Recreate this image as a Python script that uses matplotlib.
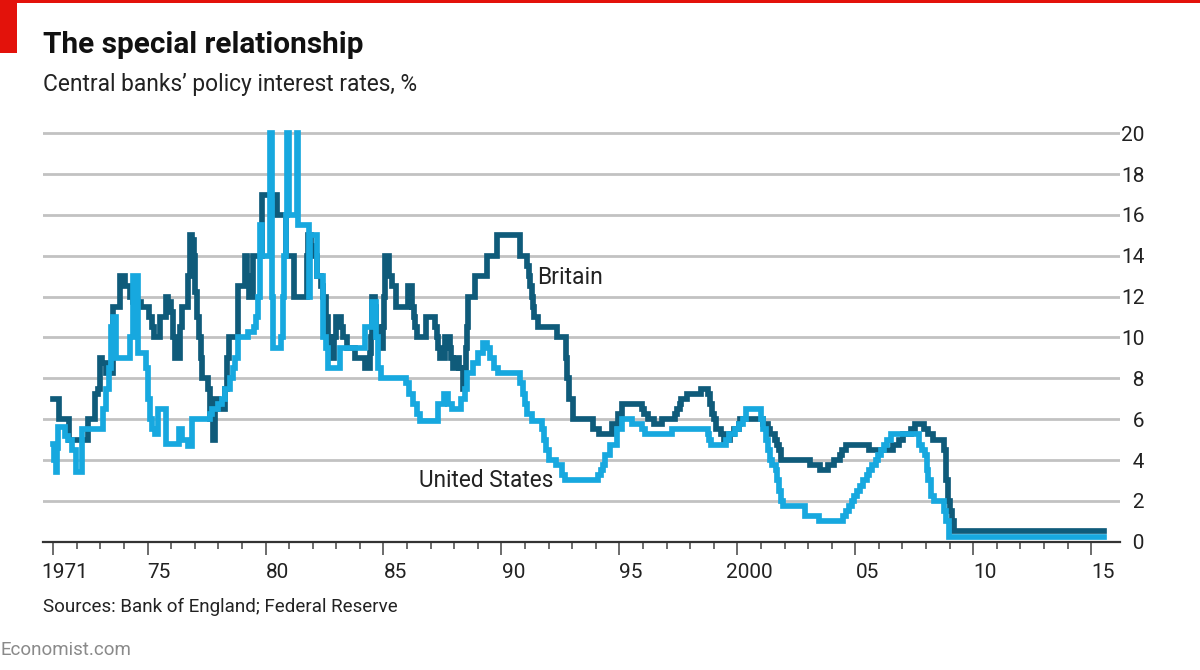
#!/usr/bin/env python3

import matplotlib.pyplot as plt
import matplotlib.transforms as mtransforms
from matplotlib.patches import Rectangle

# Policy-rate change points (decimal year, %)
britain_years = [
    1971.0, 1971.25, 1971.68, 1972.48, 1972.78, 1972.9, 1972.97, 1973.08, 1973.25, 1973.52,
    1973.85, 1974.05, 1974.25, 1974.4, 1974.7, 1975.05, 1975.18, 1975.28, 1975.52, 1975.78,
    1975.88, 1975.98, 1976.08, 1976.18, 1976.38, 1976.45, 1976.7, 1976.78, 1976.9, 1976.97,
    1977.03, 1977.1, 1977.17, 1977.25, 1977.3, 1977.55, 1977.65, 1977.78, 1977.87, 1978.0,
    1978.28, 1978.35, 1978.45, 1978.85, 1979.12, 1979.2, 1979.3, 1979.45, 1979.87, 1980.5,
    1980.88, 1981.2, 1981.75, 1981.82, 1981.92, 1982.05, 1982.2, 1982.35, 1982.45, 1982.55,
    1982.65, 1982.78, 1982.9, 1983.0, 1983.2, 1983.3, 1983.45, 1983.78, 1984.2, 1984.42,
    1984.47, 1984.52, 1984.65, 1984.7, 1984.8, 1984.9, 1985.0, 1985.04, 1985.08, 1985.22,
    1985.35, 1985.52, 1986.02, 1986.2, 1986.28, 1986.35, 1986.4, 1986.8, 1987.2, 1987.25,
    1987.33, 1987.4, 1987.6, 1987.82, 1987.88, 1987.95, 1988.1, 1988.22, 1988.37, 1988.45,
    1988.5, 1988.54, 1988.6, 1988.88, 1989.4, 1989.8, 1990.78, 1991.1, 1991.15, 1991.22,
    1991.3, 1991.35, 1991.4, 1991.55, 1992.35, 1992.72, 1992.8, 1992.88, 1993.05, 1993.9,
    1994.12, 1994.7, 1994.95, 1995.1, 1995.95, 1996.05, 1996.2, 1996.45, 1996.8, 1997.35,
    1997.45, 1997.55, 1997.6, 1997.85, 1998.45, 1998.75, 1998.85, 1998.93, 1999.02, 1999.1,
    1999.3, 1999.45, 1999.7, 1999.85, 2000.05, 2000.12, 2001.1, 2001.3, 2001.38, 2001.6,
    2001.7, 2001.78, 2001.85, 2003.1, 2003.52, 2003.85, 2004.1, 2004.35, 2004.45, 2004.6,
    2005.6, 2006.6, 2006.85, 2007.03, 2007.35, 2007.52, 2007.93, 2008.1, 2008.3, 2008.77,
    2008.84, 2008.92, 2009.02, 2009.1, 2009.17,
]
britain_rates = [
    7.0, 6.0, 5.0, 6.0, 7.25, 7.5, 9.0, 8.75, 8.25, 11.5,
    13.0, 12.5, 12.0, 11.75, 11.5, 11.0, 10.5, 10.0, 11.0, 12.0,
    11.75, 11.25, 10.0, 9.0, 10.5, 11.5, 13.0, 15.0, 14.75, 14.0,
    12.25, 11.0, 10.0, 9.0, 8.0, 7.5, 6.0, 5.0, 7.0, 6.5,
    7.5, 9.0, 10.0, 12.5, 14.0, 13.0, 12.0, 14.0, 17.0, 16.0,
    14.0, 12.0, 14.0, 15.0, 14.5, 14.0, 13.0, 12.5, 12.0, 11.0,
    10.0, 9.0, 10.0, 11.0, 10.5, 10.0, 9.5, 9.0, 8.5, 9.25,
    10.0, 12.0, 11.5, 10.5, 10.0, 9.5, 10.5, 12.0, 14.0, 13.0,
    12.5, 11.5, 12.5, 11.5, 11.0, 10.5, 10.0, 11.0, 10.5, 10.0,
    9.5, 9.0, 10.0, 9.5, 9.0, 8.5, 9.0, 8.5, 7.5, 8.5,
    9.5, 10.5, 12.0, 13.0, 14.0, 15.0, 14.0, 13.5, 13.0, 12.5,
    12.0, 11.5, 11.0, 10.5, 10.0, 9.0, 8.0, 7.0, 6.0, 5.5,
    5.25, 5.75, 6.25, 6.75, 6.5, 6.25, 6.0, 5.75, 6.0, 6.25,
    6.5, 6.75, 7.0, 7.25, 7.5, 7.25, 6.75, 6.25, 6.0, 5.5,
    5.25, 5.0, 5.25, 5.5, 5.75, 6.0, 5.75, 5.5, 5.25, 5.0,
    4.75, 4.5, 4.0, 3.75, 3.5, 3.75, 4.0, 4.25, 4.5, 4.75,
    4.5, 4.75, 5.0, 5.25, 5.5, 5.75, 5.5, 5.25, 5.0, 4.5,
    3.0, 2.0, 1.5, 1.0, 0.5,
]

us_years = [
    1971.0, 1971.05, 1971.1, 1971.15, 1971.2, 1971.5, 1971.62, 1971.8, 1971.95, 1972.2,
    1973.1, 1973.25, 1973.35, 1973.45, 1973.52, 1973.68, 1974.25, 1974.38, 1974.58, 1974.95,
    1975.02, 1975.1, 1975.18, 1975.32, 1975.45, 1975.77, 1976.35, 1976.45, 1976.7, 1976.88,
    1977.65, 1977.75, 1978.0, 1978.15, 1978.3, 1978.5, 1978.6, 1978.7, 1978.85, 1979.25,
    1979.5, 1979.6, 1979.7, 1979.77, 1979.85, 1980.21, 1980.27, 1980.33, 1980.65, 1980.72,
    1980.78, 1980.85, 1980.93, 1980.99, 1981.33, 1981.39, 1981.83, 1981.9, 1982.2, 1982.45,
    1982.58, 1982.65, 1983.15, 1984.2, 1984.5, 1984.68, 1984.78, 1984.9, 1985.95, 1986.1,
    1986.25, 1986.4, 1986.55, 1987.3, 1987.55, 1987.75, 1987.9, 1988.3, 1988.45, 1988.55,
    1988.8, 1989.0, 1989.2, 1989.4, 1989.5, 1989.7, 1989.85, 1990.8, 1990.9, 1991.0,
    1991.1, 1991.3, 1991.7, 1991.8, 1991.9, 1992.0, 1992.3, 1992.55, 1992.7, 1994.1,
    1994.2, 1994.3, 1994.38, 1994.62, 1994.88, 1995.09, 1995.53, 1995.96, 1996.08, 1997.23,
    1998.75, 1998.8, 1998.88, 1999.5, 1999.65, 1999.88, 2000.08, 2000.22, 2000.38, 2001.0,
    2001.08, 2001.22, 2001.3, 2001.38, 2001.48, 2001.64, 2001.7, 2001.76, 2001.85, 2001.95,
    2002.85, 2003.48, 2004.5, 2004.6, 2004.72, 2004.86, 2004.96, 2005.08, 2005.22, 2005.34,
    2005.5, 2005.6, 2005.72, 2005.86, 2005.96, 2006.08, 2006.22, 2006.36, 2006.5, 2007.72,
    2007.83, 2007.95, 2008.06, 2008.08, 2008.22, 2008.33, 2008.77, 2008.83, 2008.96,
]
us_rates = [
    4.8, 4.0, 3.4, 4.6, 5.6, 5.2, 5.0, 4.5, 3.4, 5.5,
    6.5, 7.5, 8.5, 10.5, 11.0, 9.0, 10.0, 13.0, 9.25, 8.5,
    7.0, 6.0, 5.5, 5.25, 6.5, 4.8, 5.5, 5.0, 4.7, 6.0,
    6.25, 6.5, 6.75, 7.0, 7.5, 8.0, 8.5, 9.0, 10.0, 10.25,
    10.5, 11.0, 12.0, 15.5, 14.0, 20.0, 12.0, 9.5, 10.0, 12.0,
    14.0, 16.0, 20.0, 16.0, 20.0, 15.5, 12.0, 15.0, 13.0, 10.0,
    9.5, 8.5, 9.5, 10.5, 11.75, 10.0, 8.5, 8.0, 7.75, 7.25,
    6.75, 6.25, 5.9, 6.75, 7.25, 6.75, 6.5, 7.0, 7.5, 8.25,
    8.75, 9.25, 9.75, 9.5, 9.0, 8.5, 8.25, 7.75, 7.25, 6.75,
    6.25, 5.9, 5.5, 5.0, 4.5, 4.0, 3.75, 3.25, 3.0, 3.25,
    3.5, 3.75, 4.25, 4.75, 5.5, 6.0, 5.75, 5.5, 5.25, 5.5,
    5.25, 5.0, 4.75, 5.0, 5.25, 5.5, 5.75, 6.0, 6.5, 6.0,
    5.5, 5.0, 4.5, 4.0, 3.75, 3.5, 3.0, 2.5, 2.0, 1.75,
    1.25, 1.0, 1.25, 1.5, 1.75, 2.0, 2.25, 2.5, 2.75, 3.0,
    3.25, 3.5, 3.75, 4.0, 4.25, 4.5, 4.75, 5.0, 5.25, 4.75,
    4.5, 4.25, 3.5, 3.0, 2.25, 2.0, 1.5, 1.0, 0.25,
]

last_obs = 2015.55
label_years = [1971, 1975, 1980, 1985, 1990, 1995, 2000, 2005, 2010, 2015]
label_text = ["1971", "75", "80", "85", "90", "95", "2000", "05", "10", "15"]
all_years = list(range(1971, 2016))
y_ticks = [0, 2, 4, 6, 8, 10, 12, 14, 16, 18, 20]

dark_blue = "#0f5b7a"
light_blue = "#17a8df"
text_col = "#222222"


def main():
    plt.rcParams['font.family'] = ['Roboto', 'DejaVu Sans']
    fig = plt.figure(figsize=(12, 6.7), dpi=100)
    ax = fig.add_axes([0.0361, 0.1915, 0.8972, 0.6157])

    bx = britain_years + [last_obs]
    by = britain_rates + [britain_rates[-1]]
    ux = us_years + [last_obs]
    uy = us_rates + [us_rates[-1]]
    ax.step(bx, by, where='post', color=dark_blue, lw=4.1,
            solid_joinstyle='miter', zorder=3)
    ax.step(ux, uy, where='post', color=light_blue, lw=4.1,
            solid_joinstyle='miter', zorder=4)

    ax.set_xlim(1970.58, 2016.22)
    ax.set_ylim(0, 20.2)

    # y axis on the right; one-digit labels padded with a figure space so they line up on the right
    ax.set_yticks(y_ticks)
    ax.set_yticklabels([f"{v:>2d}".replace(" ", "\u2007") for v in y_ticks])
    ax.yaxis.tick_right()
    ax.tick_params(axis='y', length=0, pad=1, labelsize=15, labelcolor=text_col)
    ax.yaxis.grid(True, color='#c2c2c2', lw=2.0)
    ax.set_axisbelow(True)

    for s in ['top', 'right', 'left']:
        ax.spines[s].set_visible(False)
    ax.spines['bottom'].set_color('#333333')
    ax.spines['bottom'].set_linewidth(1.6)
    ax.spines['bottom'].set_zorder(5)

    # year ticks: long at labelled years, short every year; labels centred in the year
    ax.set_xticks(label_years)
    ax.set_xticklabels(label_text)
    ax.set_xticks(all_years, minor=True)
    ax.tick_params(axis='x', which='major', length=9.5, width=1.1, color='#444444',
                   labelsize=15, labelcolor=text_col, pad=6)
    ax.tick_params(axis='x', which='minor', length=5, width=1.1, color='#444444')
    shift = mtransforms.ScaledTranslation(0.118, 0, fig.dpi_scale_trans)
    for lbl in ax.get_xticklabels():
        lbl.set_transform(lbl.get_transform() + shift)

    ax.text(1991.5, 12.95, "Britain", fontsize=16.5, color=text_col, va='center', ha='left')
    ax.text(1986.5, 3.0, "United States", fontsize=16.3, color=text_col, va='center', ha='left')

    # header, footer and the red flashes
    fig.text(43 / 1200, 1 - 45 / 670, "The special relationship", fontsize=21.4,
             fontweight='bold', color='#111111', va='center', ha='left')
    fig.text(43 / 1200, 1 - 84 / 670, "Central banks\u2019 policy interest rates, %",
             fontsize=16.4, color=text_col, va='center', ha='left')
    fig.text(43 / 1200, 1 - 607 / 670, "Sources: Bank of England; Federal Reserve",
             fontsize=13.5, color=text_col, va='center', ha='left')
    fig.text(0, 1 - 650 / 670, "Economist.com", fontsize=13.5, color='#8a8a8a',
             va='center', ha='left')
    fig.add_artist(Rectangle((0, 1 - 3 / 670), 1, 3 / 670, color='#e3120b',
                             transform=fig.transFigure, lw=0))
    fig.add_artist(Rectangle((0, 1 - 53 / 670), 17 / 1200, 53 / 670, color='#e3120b',
                             transform=fig.transFigure, lw=0))

    fig.savefig("out.png", dpi=100)


if __name__ == "__main__":
    main()
